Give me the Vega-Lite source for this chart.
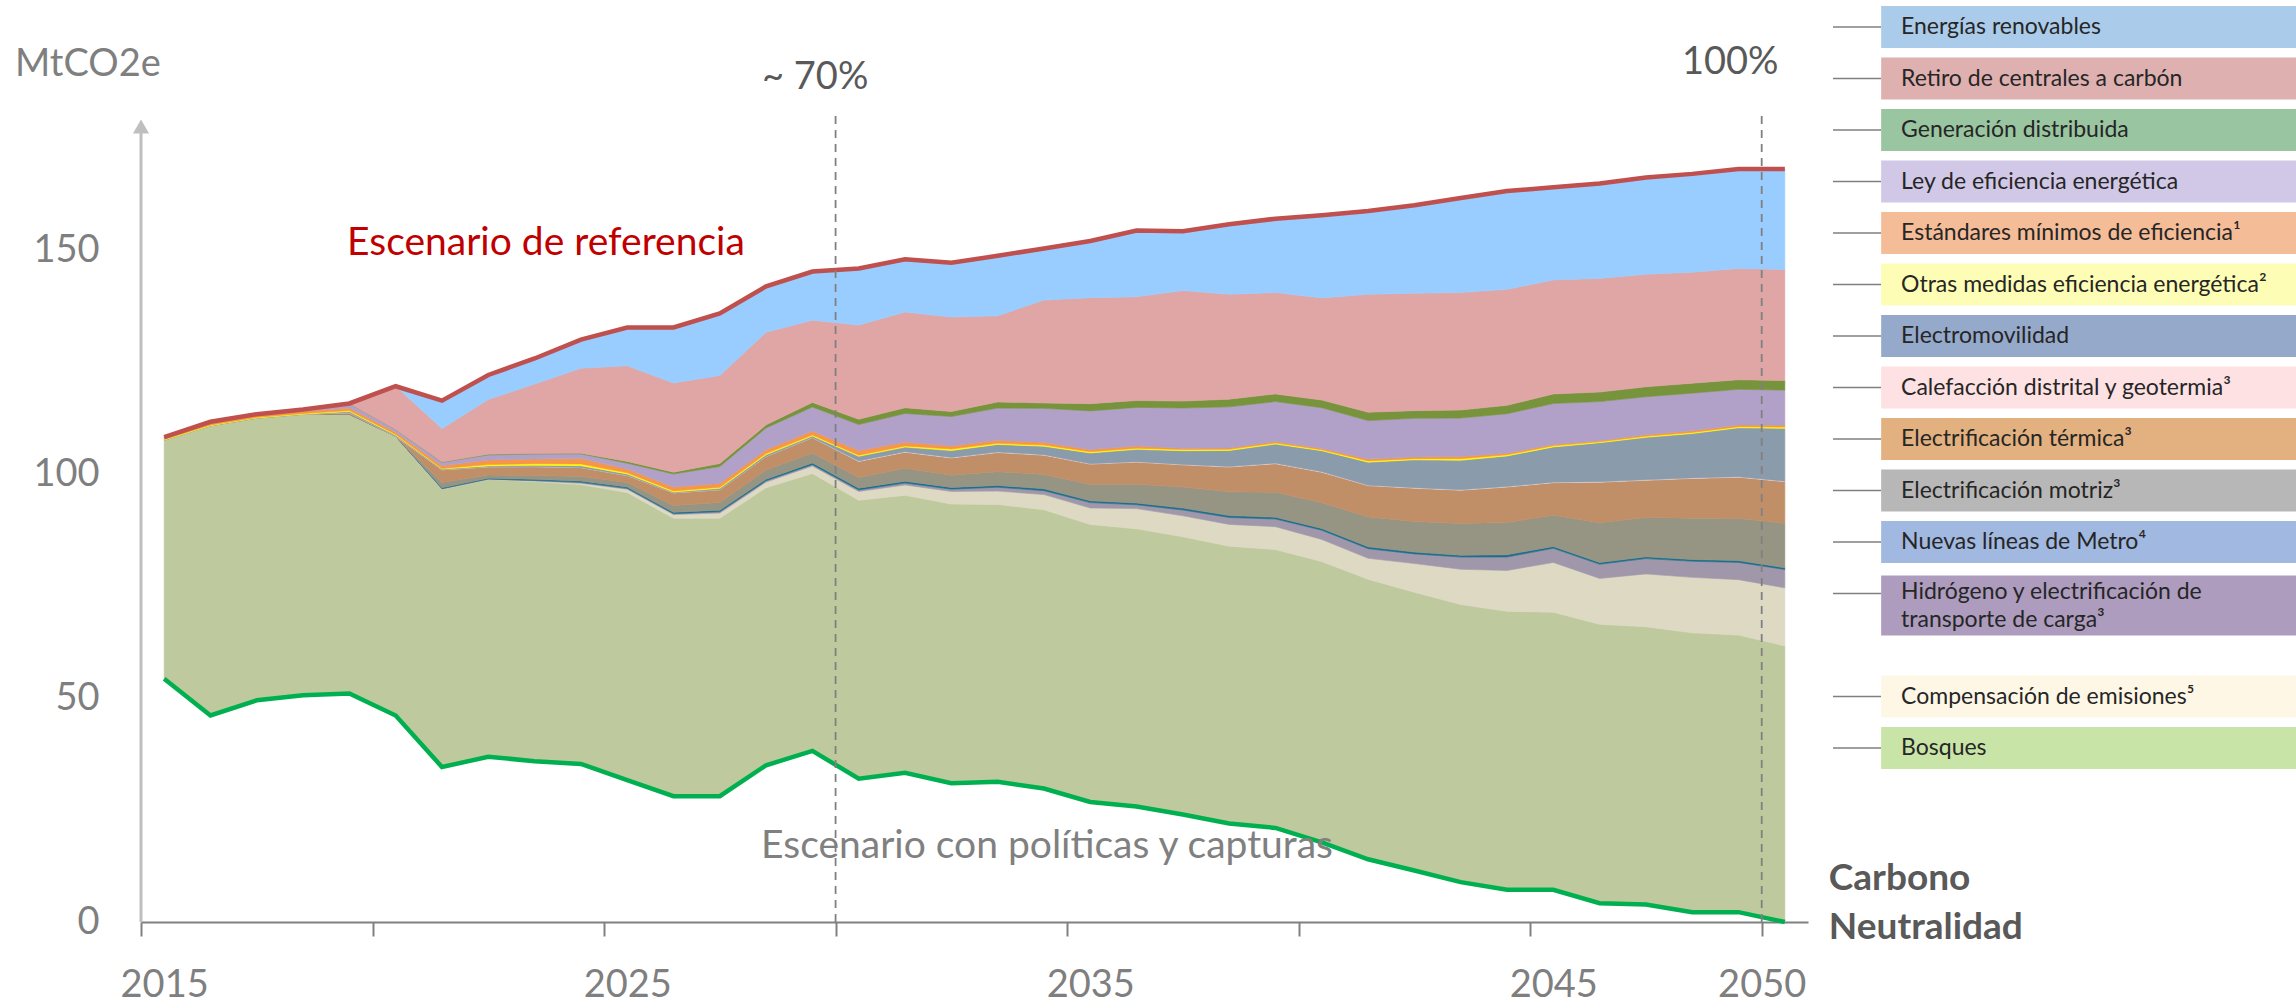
{
"$schema": "https://vega.github.io/schema/vega-lite/v6.json",
"width": 1667, "height": 916,
"autosize": {"type": "none"},
"padding": {"left": 141, "top": 6, "right": 488, "bottom": 83},
"background": "white",
"config": {"view": {"stroke": null}, "font": "Lato", "axis": {"grid": false}},
"datasets": {
"em": [
{"year":2015,"s":"NE","v":54.3},{"year":2015,"s":"BO","v":53.3},{"year":2015,"s":"CE","v":0},{"year":2015,"s":"HI","v":0},{"year":2015,"s":"NM","v":0},{"year":2015,"s":"EZ","v":0},{"year":2015,"s":"ET","v":0},{"year":2015,"s":"CD","v":0},{"year":2015,"s":"EV","v":0},{"year":2015,"s":"OM","v":0.15},{"year":2015,"s":"EM","v":0.3},{"year":2015,"s":"LE","v":0.2},{"year":2015,"s":"GD","v":0},{"year":2015,"s":"RC","v":0},{"year":2015,"s":"ER","v":0},
{"year":2016,"s":"NE","v":46.1},{"year":2016,"s":"BO","v":64.71},{"year":2016,"s":"CE","v":0},{"year":2016,"s":"HI","v":0},{"year":2016,"s":"NM","v":0},{"year":2016,"s":"EZ","v":0},{"year":2016,"s":"ET","v":0},{"year":2016,"s":"CD","v":0},{"year":2016,"s":"EV","v":0},{"year":2016,"s":"OM","v":0.16},{"year":2016,"s":"EM","v":0.4},{"year":2016,"s":"LE","v":0.3},{"year":2016,"s":"GD","v":0},{"year":2016,"s":"RC","v":0},{"year":2016,"s":"ER","v":0},
{"year":2017,"s":"NE","v":49.5},{"year":2017,"s":"BO","v":63.02},{"year":2017,"s":"CE","v":0},{"year":2017,"s":"HI","v":0},{"year":2017,"s":"NM","v":0},{"year":2017,"s":"EZ","v":0},{"year":2017,"s":"ET","v":0},{"year":2017,"s":"CD","v":0},{"year":2017,"s":"EV","v":0},{"year":2017,"s":"OM","v":0.16},{"year":2017,"s":"EM","v":0.4},{"year":2017,"s":"LE","v":0.3},{"year":2017,"s":"GD","v":0},{"year":2017,"s":"RC","v":0},{"year":2017,"s":"ER","v":0},
{"year":2018,"s":"NE","v":50.6},{"year":2018,"s":"BO","v":62.77},{"year":2018,"s":"CE","v":0},{"year":2018,"s":"HI","v":0},{"year":2018,"s":"NM","v":0},{"year":2018,"s":"EZ","v":0},{"year":2018,"s":"ET","v":0},{"year":2018,"s":"CD","v":0},{"year":2018,"s":"EV","v":0},{"year":2018,"s":"OM","v":0.18},{"year":2018,"s":"EM","v":0.45},{"year":2018,"s":"LE","v":0.4},{"year":2018,"s":"GD","v":0},{"year":2018,"s":"RC","v":0},{"year":2018,"s":"ER","v":0},
{"year":2019,"s":"NE","v":51},{"year":2019,"s":"BO","v":62.37},{"year":2019,"s":"CE","v":0},{"year":2019,"s":"HI","v":0},{"year":2019,"s":"NM","v":0},{"year":2019,"s":"EZ","v":0},{"year":2019,"s":"ET","v":0.3},{"year":2019,"s":"CD","v":0},{"year":2019,"s":"EV","v":0.3},{"year":2019,"s":"OM","v":0.2},{"year":2019,"s":"EM","v":0.6},{"year":2019,"s":"LE","v":1.0},{"year":2019,"s":"GD","v":0},{"year":2019,"s":"RC","v":0},{"year":2019,"s":"ER","v":0},
{"year":2020,"s":"NE","v":46.1},{"year":2020,"s":"BO","v":62.32},{"year":2020,"s":"CE","v":0},{"year":2020,"s":"HI","v":0},{"year":2020,"s":"NM","v":0},{"year":2020,"s":"EZ","v":0},{"year":2020,"s":"ET","v":0},{"year":2020,"s":"CD","v":0},{"year":2020,"s":"EV","v":0.24},{"year":2020,"s":"OM","v":0.2},{"year":2020,"s":"EM","v":0.5},{"year":2020,"s":"LE","v":0.6},{"year":2020,"s":"GD","v":0},{"year":2020,"s":"RC","v":9.65},{"year":2020,"s":"ER","v":0},
{"year":2021,"s":"NE","v":34.6},{"year":2021,"s":"BO","v":62.03},{"year":2021,"s":"CE","v":0.05},{"year":2021,"s":"HI","v":0.05},{"year":2021,"s":"NM","v":0.2},{"year":2021,"s":"EZ","v":1.2},{"year":2021,"s":"ET","v":2.82},{"year":2021,"s":"CD","v":0},{"year":2021,"s":"EV","v":0.17},{"year":2021,"s":"OM","v":0.15},{"year":2021,"s":"EM","v":0.6},{"year":2021,"s":"LE","v":0.75},{"year":2021,"s":"GD","v":0.1},{"year":2021,"s":"RC","v":7.44},{"year":2021,"s":"ER","v":6.23},
{"year":2022,"s":"NE","v":36.9},{"year":2022,"s":"BO","v":61.89},{"year":2022,"s":"CE","v":0.05},{"year":2022,"s":"HI","v":0.05},{"year":2022,"s":"NM","v":0.2},{"year":2022,"s":"EZ","v":0.68},{"year":2022,"s":"ET","v":1.86},{"year":2022,"s":"CD","v":0},{"year":2022,"s":"EV","v":0.2},{"year":2022,"s":"OM","v":0.3},{"year":2022,"s":"EM","v":1.02},{"year":2022,"s":"LE","v":1.13},{"year":2022,"s":"GD","v":0.15},{"year":2022,"s":"RC","v":12.22},{"year":2022,"s":"ER","v":5.47},
{"year":2023,"s":"NE","v":35.9},{"year":2023,"s":"BO","v":62.42},{"year":2023,"s":"CE","v":0.15},{"year":2023,"s":"HI","v":0.1},{"year":2023,"s":"NM","v":0.25},{"year":2023,"s":"EZ","v":0.85},{"year":2023,"s":"ET","v":2.0},{"year":2023,"s":"CD","v":0},{"year":2023,"s":"EV","v":0.3},{"year":2023,"s":"OM","v":0.35},{"year":2023,"s":"EM","v":1.02},{"year":2023,"s":"LE","v":1.13},{"year":2023,"s":"GD","v":0.15},{"year":2023,"s":"RC","v":15.47},{"year":2023,"s":"ER","v":5.72},
{"year":2024,"s":"NE","v":35.3},{"year":2024,"s":"BO","v":62.35},{"year":2024,"s":"CE","v":0.3},{"year":2024,"s":"HI","v":0.2},{"year":2024,"s":"NM","v":0.3},{"year":2024,"s":"EZ","v":1.02},{"year":2024,"s":"ET","v":2.0},{"year":2024,"s":"CD","v":0},{"year":2024,"s":"EV","v":0.4},{"year":2024,"s":"OM","v":0.4},{"year":2024,"s":"EM","v":1.19},{"year":2024,"s":"LE","v":1.05},{"year":2024,"s":"GD","v":0.15},{"year":2024,"s":"RC","v":18.97},{"year":2024,"s":"ER","v":6.4},
{"year":2025,"s":"NE","v":31.7},{"year":2025,"s":"BO","v":64.17},{"year":2025,"s":"CE","v":0.77},{"year":2025,"s":"HI","v":0.17},{"year":2025,"s":"NM","v":0.3},{"year":2025,"s":"EZ","v":1.02},{"year":2025,"s":"ET","v":1.54},{"year":2025,"s":"CD","v":0},{"year":2025,"s":"EV","v":0.35},{"year":2025,"s":"OM","v":0.25},{"year":2025,"s":"EM","v":0.86},{"year":2025,"s":"LE","v":1.3},{"year":2025,"s":"GD","v":0.4},{"year":2025,"s":"RC","v":21.35},{"year":2025,"s":"ER","v":8.55},
{"year":2026,"s":"NE","v":28.1},{"year":2026,"s":"BO","v":62.04},{"year":2026,"s":"CE","v":0.82},{"year":2026,"s":"HI","v":0.2},{"year":2026,"s":"NM","v":0.3},{"year":2026,"s":"EZ","v":1.54},{"year":2026,"s":"ET","v":2.82},{"year":2026,"s":"CD","v":0},{"year":2026,"s":"EV","v":0.17},{"year":2026,"s":"OM","v":0.26},{"year":2026,"s":"EM","v":0.85},{"year":2026,"s":"LE","v":2.91},{"year":2026,"s":"GD","v":0.42},{"year":2026,"s":"RC","v":19.91},{"year":2026,"s":"ER","v":12.39},
{"year":2027,"s":"NE","v":28.1},{"year":2027,"s":"BO","v":62.04},{"year":2027,"s":"CE","v":1.15},{"year":2027,"s":"HI","v":0.3},{"year":2027,"s":"NM","v":0.35},{"year":2027,"s":"EZ","v":1.71},{"year":2027,"s":"ET","v":2.86},{"year":2027,"s":"CD","v":0},{"year":2027,"s":"EV","v":0.3},{"year":2027,"s":"OM","v":0.25},{"year":2027,"s":"EM","v":0.86},{"year":2027,"s":"LE","v":3.76},{"year":2027,"s":"GD","v":0.68},{"year":2027,"s":"RC","v":19.65},{"year":2027,"s":"ER","v":13.84},
{"year":2028,"s":"NE","v":35},{"year":2028,"s":"BO","v":61.97},{"year":2028,"s":"CE","v":1.24},{"year":2028,"s":"HI","v":0.3},{"year":2028,"s":"NM","v":0.35},{"year":2028,"s":"EZ","v":2.05},{"year":2028,"s":"ET","v":3.02},{"year":2028,"s":"CD","v":0},{"year":2028,"s":"EV","v":0.4},{"year":2028,"s":"OM","v":0.25},{"year":2028,"s":"EM","v":0.86},{"year":2028,"s":"LE","v":4.87},{"year":2028,"s":"GD","v":0.68},{"year":2028,"s":"RC","v":20.67},{"year":2028,"s":"ER","v":10.26},
{"year":2029,"s":"NE","v":38.2},{"year":2029,"s":"BO","v":61.93},{"year":2029,"s":"CE","v":1.67},{"year":2029,"s":"HI","v":0.3},{"year":2029,"s":"NM","v":0.4},{"year":2029,"s":"EZ","v":2.22},{"year":2029,"s":"ET","v":3.42},{"year":2029,"s":"CD","v":0},{"year":2029,"s":"EV","v":0.34},{"year":2029,"s":"OM","v":0.25},{"year":2029,"s":"EM","v":0.86},{"year":2029,"s":"LE","v":5.38},{"year":2029,"s":"GD","v":1.03},{"year":2029,"s":"RC","v":18.37},{"year":2029,"s":"ER","v":10.84},
{"year":2030,"s":"NE","v":32},{"year":2030,"s":"BO","v":62.15},{"year":2030,"s":"CE","v":1.97},{"year":2030,"s":"HI","v":0.34},{"year":2030,"s":"NM","v":0.4},{"year":2030,"s":"EZ","v":2.39},{"year":2030,"s":"ET","v":3.58},{"year":2030,"s":"CD","v":0.1},{"year":2030,"s":"EV","v":1.03},{"year":2030,"s":"OM","v":0.26},{"year":2030,"s":"EM","v":1.02},{"year":2030,"s":"LE","v":5.81},{"year":2030,"s":"GD","v":1.2},{"year":2030,"s":"RC","v":21.01},{"year":2030,"s":"ER","v":12.65},
{"year":2031,"s":"NE","v":33.3},{"year":2031,"s":"BO","v":61.96},{"year":2031,"s":"CE","v":2.31},{"year":2031,"s":"HI","v":0.43},{"year":2031,"s":"NM","v":0.4},{"year":2031,"s":"EZ","v":2.9},{"year":2031,"s":"ET","v":3.59},{"year":2031,"s":"CD","v":0.1},{"year":2031,"s":"EV","v":1.03},{"year":2031,"s":"OM","v":0.25},{"year":2031,"s":"EM","v":0.86},{"year":2031,"s":"LE","v":6.4},{"year":2031,"s":"GD","v":1.28},{"year":2031,"s":"RC","v":21.36},{"year":2031,"s":"ER","v":11.79},
{"year":2032,"s":"NE","v":31},{"year":2032,"s":"BO","v":62.3},{"year":2032,"s":"CE","v":2.82},{"year":2032,"s":"HI","v":0.51},{"year":2032,"s":"NM","v":0.4},{"year":2032,"s":"EZ","v":2.73},{"year":2032,"s":"ET","v":3.85},{"year":2032,"s":"CD","v":0.1},{"year":2032,"s":"EV","v":1.54},{"year":2032,"s":"OM","v":0.34},{"year":2032,"s":"EM","v":0.68},{"year":2032,"s":"LE","v":6.58},{"year":2032,"s":"GD","v":1.11},{"year":2032,"s":"RC","v":21.1},{"year":2032,"s":"ER","v":12.13},
{"year":2033,"s":"NE","v":31.3},{"year":2033,"s":"BO","v":61.92},{"year":2033,"s":"CE","v":2.99},{"year":2033,"s":"HI","v":0.85},{"year":2033,"s":"NM","v":0.4},{"year":2033,"s":"EZ","v":3.08},{"year":2033,"s":"ET","v":4.27},{"year":2033,"s":"CD","v":0.1},{"year":2033,"s":"EV","v":1.71},{"year":2033,"s":"OM","v":0.25},{"year":2033,"s":"EM","v":0.68},{"year":2033,"s":"LE","v":7.18},{"year":2033,"s":"GD","v":1.37},{"year":2033,"s":"RC","v":19.22},{"year":2033,"s":"ER","v":13.41},
{"year":2034,"s":"NE","v":29.8},{"year":2034,"s":"BO","v":62.22},{"year":2034,"s":"CE","v":3.41},{"year":2034,"s":"HI","v":0.86},{"year":2034,"s":"NM","v":0.43},{"year":2034,"s":"EZ","v":3.16},{"year":2034,"s":"ET","v":4.35},{"year":2034,"s":"CD","v":0.1},{"year":2034,"s":"EV","v":1.88},{"year":2034,"s":"OM","v":0.26},{"year":2034,"s":"EM","v":0.6},{"year":2034,"s":"LE","v":7.6},{"year":2034,"s":"GD","v":1.2},{"year":2034,"s":"RC","v":22.98},{"year":2034,"s":"ER","v":11.53},
{"year":2035,"s":"NE","v":26.8},{"year":2035,"s":"BO","v":61.96},{"year":2035,"s":"CE","v":3.67},{"year":2035,"s":"HI","v":1.2},{"year":2035,"s":"NM","v":0.4},{"year":2035,"s":"EZ","v":3.67},{"year":2035,"s":"ET","v":4.53},{"year":2035,"s":"CD","v":0.1},{"year":2035,"s":"EV","v":2.39},{"year":2035,"s":"OM","v":0.25},{"year":2035,"s":"EM","v":0.5},{"year":2035,"s":"LE","v":8.63},{"year":2035,"s":"GD","v":1.62},{"year":2035,"s":"RC","v":23.66},{"year":2035,"s":"ER","v":12.65},
{"year":2036,"s":"NE","v":25.8},{"year":2036,"s":"BO","v":61.97},{"year":2036,"s":"CE","v":4.52},{"year":2036,"s":"HI","v":0.86},{"year":2036,"s":"NM","v":0.4},{"year":2036,"s":"EZ","v":4.18},{"year":2036,"s":"ET","v":4.95},{"year":2036,"s":"CD","v":0.1},{"year":2036,"s":"EV","v":2.74},{"year":2036,"s":"OM","v":0.25},{"year":2036,"s":"EM","v":0.5},{"year":2036,"s":"LE","v":8.62},{"year":2036,"s":"GD","v":1.54},{"year":2036,"s":"RC","v":23.15},{"year":2036,"s":"ER","v":14.78},
{"year":2037,"s":"NE","v":24},{"year":2037,"s":"BO","v":62.0},{"year":2037,"s":"CE","v":4.69},{"year":2037,"s":"HI","v":1.29},{"year":2037,"s":"NM","v":0.42},{"year":2037,"s":"EZ","v":4.7},{"year":2037,"s":"ET","v":4.96},{"year":2037,"s":"CD","v":0.1},{"year":2037,"s":"EV","v":3.07},{"year":2037,"s":"OM","v":0.25},{"year":2037,"s":"EM","v":0.3},{"year":2037,"s":"LE","v":8.97},{"year":2037,"s":"GD","v":1.54},{"year":2037,"s":"RC","v":24.69},{"year":2037,"s":"ER","v":13.24},
{"year":2038,"s":"NE","v":22},{"year":2038,"s":"BO","v":61.9},{"year":2038,"s":"CE","v":4.87},{"year":2038,"s":"HI","v":1.54},{"year":2038,"s":"NM","v":0.42},{"year":2038,"s":"EZ","v":5.3},{"year":2038,"s":"ET","v":5.55},{"year":2038,"s":"CD","v":0.1},{"year":2038,"s":"EV","v":3.59},{"year":2038,"s":"OM","v":0.25},{"year":2038,"s":"EM","v":0.3},{"year":2038,"s":"LE","v":9.19},{"year":2038,"s":"GD","v":1.71},{"year":2038,"s":"RC","v":23.41},{"year":2038,"s":"ER","v":15.63},
{"year":2039,"s":"NE","v":21},{"year":2039,"s":"BO","v":62.14},{"year":2039,"s":"CE","v":5.12},{"year":2039,"s":"HI","v":1.71},{"year":2039,"s":"NM","v":0.4},{"year":2039,"s":"EZ","v":5.55},{"year":2039,"s":"ET","v":6.41},{"year":2039,"s":"CD","v":0.1},{"year":2039,"s":"EV","v":4.27},{"year":2039,"s":"OM","v":0.25},{"year":2039,"s":"EM","v":0.3},{"year":2039,"s":"LE","v":8.93},{"year":2039,"s":"GD","v":1.71},{"year":2039,"s":"RC","v":22.63},{"year":2039,"s":"ER","v":16.49},
{"year":2040,"s":"NE","v":17.8},{"year":2040,"s":"BO","v":62.66},{"year":2040,"s":"CE","v":4.95},{"year":2040,"s":"HI","v":2.05},{"year":2040,"s":"NM","v":0.4},{"year":2040,"s":"EZ","v":5.73},{"year":2040,"s":"ET","v":6.83},{"year":2040,"s":"CD","v":0.1},{"year":2040,"s":"EV","v":4.7},{"year":2040,"s":"OM","v":0.2},{"year":2040,"s":"EM","v":0.3},{"year":2040,"s":"LE","v":9.09},{"year":2040,"s":"GD","v":1.71},{"year":2040,"s":"RC","v":22.81},{"year":2040,"s":"ER","v":18.46},
{"year":2041,"s":"NE","v":14},{"year":2041,"s":"BO","v":62.5},{"year":2041,"s":"CE","v":4.7},{"year":2041,"s":"HI","v":2.14},{"year":2041,"s":"NM","v":0.42},{"year":2041,"s":"EZ","v":6.67},{"year":2041,"s":"ET","v":7.0},{"year":2041,"s":"CD","v":0.1},{"year":2041,"s":"EV","v":5.13},{"year":2041,"s":"OM","v":0.28},{"year":2041,"s":"EM","v":0.4},{"year":2041,"s":"LE","v":8.6},{"year":2041,"s":"GD","v":1.88},{"year":2041,"s":"RC","v":26.31},{"year":2041,"s":"ER","v":18.62},
{"year":2042,"s":"NE","v":11.5},{"year":2042,"s":"BO","v":62.12},{"year":2042,"s":"CE","v":6.41},{"year":2042,"s":"HI","v":2.14},{"year":2042,"s":"NM","v":0.42},{"year":2042,"s":"EZ","v":6.84},{"year":2042,"s":"ET","v":7.43},{"year":2042,"s":"CD","v":0.1},{"year":2042,"s":"EV","v":6.23},{"year":2042,"s":"OM","v":0.25},{"year":2042,"s":"EM","v":0.35},{"year":2042,"s":"LE","v":8.66},{"year":2042,"s":"GD","v":1.71},{"year":2042,"s":"RC","v":26.22},{"year":2042,"s":"ER","v":19.65},
{"year":2043,"s":"NE","v":8.9},{"year":2043,"s":"BO","v":61.99},{"year":2043,"s":"CE","v":7.86},{"year":2043,"s":"HI","v":2.73},{"year":2043,"s":"NM","v":0.4},{"year":2043,"s":"EZ","v":7.09},{"year":2043,"s":"ET","v":7.43},{"year":2043,"s":"CD","v":0.1},{"year":2043,"s":"EV","v":6.58},{"year":2043,"s":"OM","v":0.35},{"year":2043,"s":"EM","v":0.5},{"year":2043,"s":"LE","v":8.57},{"year":2043,"s":"GD","v":1.8},{"year":2043,"s":"RC","v":26.22},{"year":2043,"s":"ER","v":21.11},
{"year":2044,"s":"NE","v":7.2},{"year":2044,"s":"BO","v":62.15},{"year":2044,"s":"CE","v":9.14},{"year":2044,"s":"HI","v":2.99},{"year":2044,"s":"NM","v":0.51},{"year":2044,"s":"EZ","v":7.18},{"year":2044,"s":"ET","v":7.95},{"year":2044,"s":"CD","v":0.1},{"year":2044,"s":"EV","v":6.83},{"year":2044,"s":"OM","v":0.25},{"year":2044,"s":"EM","v":0.35},{"year":2044,"s":"LE","v":8.82},{"year":2044,"s":"GD","v":1.88},{"year":2044,"s":"RC","v":25.89},{"year":2044,"s":"ER","v":21.95},
{"year":2045,"s":"NE","v":7.2},{"year":2045,"s":"BO","v":61.97},{"year":2045,"s":"CE","v":11.1},{"year":2045,"s":"HI","v":3.16},{"year":2045,"s":"NM","v":0.4},{"year":2045,"s":"EZ","v":7.0},{"year":2045,"s":"ET","v":7.26},{"year":2045,"s":"CD","v":0.1},{"year":2045,"s":"EV","v":7.87},{"year":2045,"s":"OM","v":0.25},{"year":2045,"s":"EM","v":0.3},{"year":2045,"s":"LE","v":9.14},{"year":2045,"s":"GD","v":2.14},{"year":2045,"s":"RC","v":25.45},{"year":2045,"s":"ER","v":20.68},
{"year":2046,"s":"NE","v":4.2},{"year":2046,"s":"BO","v":62.25},{"year":2046,"s":"CE","v":10.25},{"year":2046,"s":"HI","v":3.16},{"year":2046,"s":"NM","v":0.4},{"year":2046,"s":"EZ","v":8.88},{"year":2046,"s":"ET","v":9.05},{"year":2046,"s":"CD","v":0.1},{"year":2046,"s":"EV","v":8.72},{"year":2046,"s":"OM","v":0.2},{"year":2046,"s":"EM","v":0.25},{"year":2046,"s":"LE","v":8.72},{"year":2046,"s":"GD","v":2.13},{"year":2046,"s":"RC","v":25.38},{"year":2046,"s":"ER","v":21.18},
{"year":2047,"s":"NE","v":3.9},{"year":2047,"s":"BO","v":62.02},{"year":2047,"s":"CE","v":11.79},{"year":2047,"s":"HI","v":3.42},{"year":2047,"s":"NM","v":0.4},{"year":2047,"s":"EZ","v":8.8},{"year":2047,"s":"ET","v":8.29},{"year":2047,"s":"CD","v":0.1},{"year":2047,"s":"EV","v":9.48},{"year":2047,"s":"OM","v":0.25},{"year":2047,"s":"EM","v":0.35},{"year":2047,"s":"LE","v":8.46},{"year":2047,"s":"GD","v":2.22},{"year":2047,"s":"RC","v":25.12},{"year":2047,"s":"ER","v":21.61},
{"year":2048,"s":"NE","v":2.2},{"year":2048,"s":"BO","v":62.35},{"year":2048,"s":"CE","v":12.39},{"year":2048,"s":"HI","v":3.59},{"year":2048,"s":"NM","v":0.4},{"year":2048,"s":"EZ","v":9.23},{"year":2048,"s":"ET","v":8.88},{"year":2048,"s":"CD","v":0.1},{"year":2048,"s":"EV","v":9.91},{"year":2048,"s":"OM","v":0.25},{"year":2048,"s":"EM","v":0.35},{"year":2048,"s":"LE","v":8.42},{"year":2048,"s":"GD","v":2.22},{"year":2048,"s":"RC","v":24.77},{"year":2048,"s":"ER","v":21.96},
{"year":2049,"s":"NE","v":2.2},{"year":2049,"s":"BO","v":61.85},{"year":2049,"s":"CE","v":12.38},{"year":2049,"s":"HI","v":3.85},{"year":2049,"s":"NM","v":0.4},{"year":2049,"s":"EZ","v":9.4},{"year":2049,"s":"ET","v":9.22},{"year":2049,"s":"CD","v":0.1},{"year":2049,"s":"EV","v":10.94},{"year":2049,"s":"OM","v":0.25},{"year":2049,"s":"EM","v":0.35},{"year":2049,"s":"LE","v":7.98},{"year":2049,"s":"GD","v":2.14},{"year":2049,"s":"RC","v":24.86},{"year":2049,"s":"ER","v":22.21},
{"year":2050,"s":"NE","v":0},{"year":2050,"s":"BO","v":61.62},{"year":2050,"s":"CE","v":12.98},{"year":2050,"s":"HI","v":4.1},{"year":2050,"s":"NM","v":0.4},{"year":2050,"s":"EZ","v":9.9},{"year":2050,"s":"ET","v":9.32},{"year":2050,"s":"CD","v":0.1},{"year":2050,"s":"EV","v":11.79},{"year":2050,"s":"OM","v":0.28},{"year":2050,"s":"EM","v":0.4},{"year":2050,"s":"LE","v":7.86},{"year":2050,"s":"GD","v":2.14},{"year":2050,"s":"RC","v":24.77},{"year":2050,"s":"ER","v":22.47}
],
"leg": [
{"code":"ER","label":"Energías renovables"},
{"code":"RC","label":"Retiro de centrales a carbón"},
{"code":"GD","label":"Generación distribuida"},
{"code":"LE","label":"Ley de eficiencia energética"},
{"code":"EM","label":"Estándares mínimos de eficiencia¹"},
{"code":"OM","label":"Otras medidas eficiencia energética²"},
{"code":"EV","label":"Electromovilidad"},
{"code":"CD","label":"Calefacción distrital y geotermia³"},
{"code":"ET","label":"Electrificación térmica³"},
{"code":"EZ","label":"Electrificación motriz³"},
{"code":"NM","label":"Nuevas líneas de Metro⁴"},
{"code":"HI","label":"Hidrógeno y electrificación de\ntransporte de carga³"},
{"code":"CE","label":"Compensación de emisiones⁵"},
{"code":"BO","label":"Bosques"}
]
},
"layer": [
{
"layer": [
{
"data": {"name": "em"},
"transform": [{"calculate": "indexof(['NE','BO','CE','HI','NM','EZ','ET','CD','EV','OM','EM','LE','GD','RC','ER'], datum.s)", "as": "k"}],
"mark": {"type": "area", "strokeWidth": 0.6},
"encoding": {
"x": {"field": "year", "type": "quantitative", "scale": {"domain": [2014.5, 2050.5], "nice": false, "zero": false},
"axis": {"values": [2015,2020,2025,2030,2035,2040,2045,2050], "tickOffset": -23.15, "labelOffset": {"condition": {"test": "datum.value == 2050", "value": 0}, "value": 23.15},
"labelExpr": "indexof([2015,2025,2035,2045,2050], datum.value) >= 0 ? format(datum.value, 'd') : ''",
"title": null, "grid": false, "domainColor": "#808080", "domainWidth": 2, "tickColor": "#808080", "tickWidth": 2, "tickSize": 14,
"labelFont": "Lato", "labelFontSize": 38, "labelColor": "#7F7F7F", "labelBaseline": "middle", "labelPadding": 49, "labelFlush": false, "labelOverlap": false}},
"y": {"field": "v", "type": "quantitative", "stack": "zero", "scale": {"domain": [0, 204.5], "nice": false},
"axis": {"values": [0,50,100,150], "domain": false, "ticks": false, "grid": false, "title": null, "labelFont": "Lato", "labelFontSize": 38, "labelColor": "#7F7F7F", "labelPadding": 42}},
"color": {"field": "s", "type": "nominal", "legend": null,
"scale": {"domain": ["NE","BO","CE","HI","NM","EZ","ET","CD","EV","OM","EM","LE","GD","RC","ER"],
"range": ["rgba(0,0,0,0)","#BECA9E","#DDD9C3","#A098AA","#1F6E8C","#969483","#C08F68","#F2DCDB","#8A9BAC","#FFFF00","#F79646","#B1A0C7","#77933C","#DFA6A5","#99CCFF"]}},
"stroke": {"field": "s", "type": "nominal", "legend": null,
"scale": {"domain": ["NE","BO","CE","HI","NM","EZ","ET","CD","EV","OM","EM","LE","GD","RC","ER"],
"range": ["rgba(0,0,0,0)","#BECA9E","#DDD9C3","#A098AA","#1F6E8C","#969483","#C08F68","#F2DCDB","#8A9BAC","#FFFF00","#F79646","#B1A0C7","#77933C","#DFA6A5","#99CCFF"]}},
"order": {"field": "k", "type": "quantitative"}
}
},
{
"data": {"name": "em"},
"transform": [{"aggregate": [{"op": "sum", "field": "v", "as": "total"}], "groupby": ["year"]}],
"mark": {"type": "line", "color": "#C0504D", "strokeWidth": 4.5},
"encoding": {
"x": {"field": "year", "type": "quantitative"},
"y": {"field": "total", "type": "quantitative"}
}
},
{
"data": {"name": "em"},
"transform": [{"filter": "datum.s == 'NE'"}],
"mark": {"type": "line", "color": "#00B050", "strokeWidth": 4.5},
"encoding": {
"x": {"field": "year", "type": "quantitative"},
"y": {"field": "v", "type": "quantitative"}
}
},
{
"data": {"values": [{}]},
"mark": {"type": "rule", "color": "#808080", "strokeWidth": 1.8, "strokeDash": [8, 6]},
"encoding": {"x": {"datum": 2029.5, "type": "quantitative"}, "y": {"datum": 0, "type": "quantitative"}, "y2": {"datum": 180}}
},
{
"data": {"values": [{}]},
"mark": {"type": "rule", "color": "#808080", "strokeWidth": 1.8, "strokeDash": [8, 6]},
"encoding": {"x": {"datum": 2049.5, "type": "quantitative"}, "y": {"datum": 0, "type": "quantitative"}, "y2": {"datum": 180.6}}
},
{
"data": {"values": [{}]},
"mark": {"type": "rule", "color": "#BFBFBF", "strokeWidth": 3},
"encoding": {"x": {"datum": 2014.5, "type": "quantitative"}, "y": {"datum": 0, "type": "quantitative"}, "y2": {"datum": 176.5}}
},
{
"data": {"values": [{}]},
"mark": {"type": "point", "shape": "triangle-up", "filled": true, "size": 260, "color": "#BFBFBF", "opacity": 1},
"encoding": {"x": {"datum": 2014.5, "type": "quantitative"}, "y": {"datum": 177.6, "type": "quantitative"}}
},
{
"data": {"values": [{}]},
"mark": {"type": "text", "text": "MtCO2e", "fontSize": 38, "color": "#7F7F7F", "align": "left", "baseline": "middle"},
"encoding": {"x": {"datum": 2011.78, "type": "quantitative"}, "y": {"datum": 191.3, "type": "quantitative"}}
},
{
"data": {"values": [{}]},
"mark": {"type": "text", "text": "Escenario de referencia", "fontSize": 39, "color": "#C00000", "align": "left", "baseline": "middle"},
"encoding": {"x": {"datum": 2018.95, "type": "quantitative"}, "y": {"datum": 151.6, "type": "quantitative"}}
},
{
"data": {"values": [{}]},
"mark": {"type": "text", "text": "Escenario con políticas y capturas", "fontSize": 39, "color": "#808080", "align": "left", "baseline": "middle"},
"encoding": {"x": {"datum": 2027.89, "type": "quantitative"}, "y": {"datum": 17.0, "type": "quantitative"}}
},
{
"data": {"values": [{}]},
"mark": {"type": "text", "text": "~ 70%", "fontSize": 38, "color": "#595959", "align": "center", "baseline": "middle"},
"encoding": {"x": {"datum": 2029.06, "type": "quantitative"}, "y": {"datum": 188.4, "type": "quantitative"}}
},
{
"data": {"values": [{}]},
"mark": {"type": "text", "text": "100%", "fontSize": 38, "color": "#595959", "align": "center", "baseline": "middle"},
"encoding": {"x": {"datum": 2048.82, "type": "quantitative"}, "y": {"datum": 191.7, "type": "quantitative"}}
},
{
"data": {"values": [{}]},
"mark": {"type": "text", "text": "Carbono\nNeutralidad", "lineBreak": "\n", "lineHeight": 49, "fontSize": 37, "fontWeight": "bold", "color": "#595959", "align": "left", "baseline": "middle"},
"encoding": {"x": {"datum": 2050.95, "type": "quantitative"}, "y": {"datum": 9.6, "type": "quantitative"}}
}
]
},
{
"data": {"name": "leg"},
"layer": [
{
"mark": {"type": "rule", "color": "#7F7F7F", "strokeWidth": 1.5},
"encoding": {
"x": {"datum": 2051.04, "type": "quantitative"}, "x2": {"datum": 2052.08},
"y": {"field": "code", "type": "nominal", "axis": null, "scale": {"domain": ["ER","RC","GD","LE","EM","OM","EV","CD","ET","EZ","NM","HI","_a","CE","BO","_b","_c"], "paddingInner": 0.1845, "paddingOuter": 0.485, "align": 0}}
}
},
{
"transform": [{"filter": "datum.code != 'HI'"}],
"mark": {"type": "rect"},
"encoding": {
"x": {"datum": 2052.08, "type": "quantitative"}, "x2": {"datum": 2061.5},
"y": {"field": "code", "type": "nominal", "axis": null, "scale": {"domain": ["ER","RC","GD","LE","EM","OM","EV","CD","ET","EZ","NM","HI","_a","CE","BO","_b","_c"], "paddingInner": 0.1845, "paddingOuter": 0.485, "align": 0}},
"color": {"field": "code", "type": "nominal", "legend": null,
"scale": {"domain": ["ER","RC","GD","LE","EM","OM","EV","CD","ET","EZ","NM","HI","CE","BO"],
"range": ["#ABCBEA","#DFB0B0","#99C5A0","#D0C8E6","#F5BC98","#FDFDB5","#95A9CB","#FDE1E3","#E3B17F","#B8B7B7","#A1B8E0","#AD9CBE","#FEF7E6","#C8E4A6"]}}
}
},
{
"transform": [{"filter": "datum.code == 'HI'"}],
"mark": {"type": "rect", "height": {"band": 1.43}, "yOffset": 12},
"encoding": {
"x": {"datum": 2052.08, "type": "quantitative"}, "x2": {"datum": 2061.5},
"y": {"field": "code", "type": "nominal", "axis": null, "scale": {"domain": ["ER","RC","GD","LE","EM","OM","EV","CD","ET","EZ","NM","HI","_a","CE","BO","_b","_c"], "paddingInner": 0.1845, "paddingOuter": 0.485, "align": 0}},
"color": {"field": "code", "type": "nominal", "legend": null,
"scale": {"domain": ["ER","RC","GD","LE","EM","OM","EV","CD","ET","EZ","NM","HI","CE","BO"],
"range": ["#ABCBEA","#DFB0B0","#99C5A0","#D0C8E6","#F5BC98","#FDFDB5","#95A9CB","#FDE1E3","#E3B17F","#B8B7B7","#A1B8E0","#AD9CBE","#FEF7E6","#C8E4A6"]}}
}
},
{
"transform": [{"filter": "datum.code != 'HI'"}],
"mark": {"type": "text", "align": "left", "baseline": "middle", "fontSize": 23, "color": "#262626"},
"encoding": {
"x": {"datum": 2052.51, "type": "quantitative"},
"y": {"field": "code", "type": "nominal", "axis": null, "scale": {"domain": ["ER","RC","GD","LE","EM","OM","EV","CD","ET","EZ","NM","HI","_a","CE","BO","_b","_c"], "paddingInner": 0.1845, "paddingOuter": 0.485, "align": 0}},
"text": {"field": "label", "type": "nominal"}
}
},
{
"transform": [{"filter": "datum.code == 'HI'"}],
"mark": {"type": "text", "align": "left", "baseline": "middle", "fontSize": 23, "color": "#262626", "lineBreak": "\n", "lineHeight": 28, "dy": -2},
"encoding": {
"x": {"datum": 2052.51, "type": "quantitative"},
"y": {"field": "code", "type": "nominal", "axis": null, "scale": {"domain": ["ER","RC","GD","LE","EM","OM","EV","CD","ET","EZ","NM","HI","_a","CE","BO","_b","_c"], "paddingInner": 0.1845, "paddingOuter": 0.485, "align": 0}},
"text": {"field": "label", "type": "nominal"}
}
}
]
}
],
"resolve": {"scale": {"y": "independent", "color": "independent"}}
}
